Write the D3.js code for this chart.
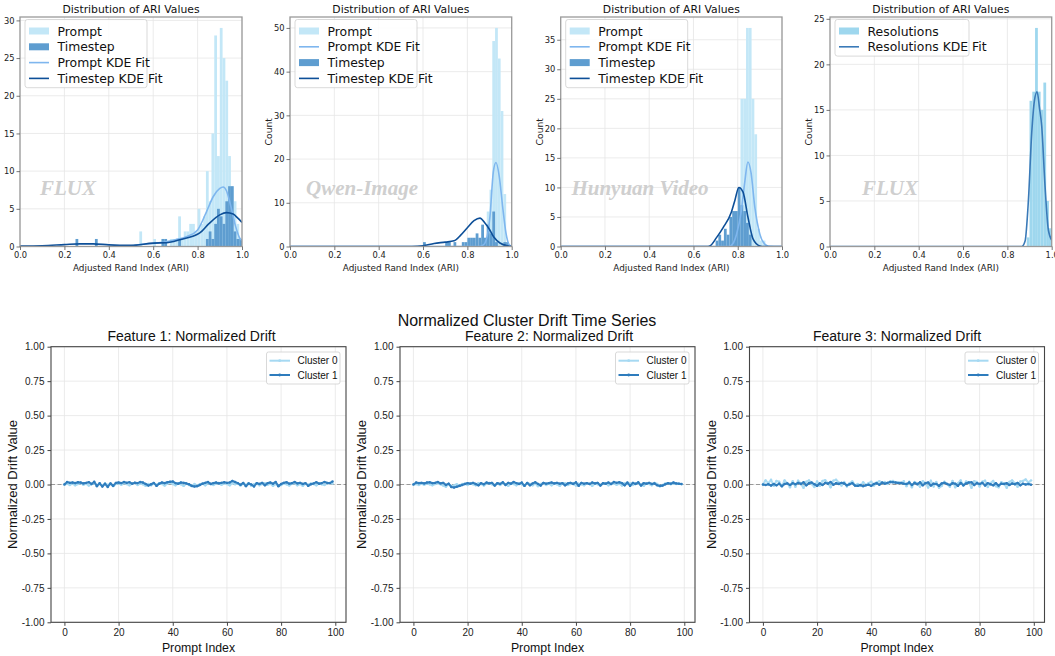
<!DOCTYPE html>
<html><head><meta charset="utf-8">
<script src="https://cdn.jsdelivr.net/npm/d3@7"></script>
<style>body{margin:0;background:#fff}svg{display:block}</style>
</head><body>
<script>
// ---------------- DATA ----------------
const ariTicks = [0, 0.2, 0.4, 0.6, 0.8, 1.0];
const binWidth = 0.0125;

// Panel 1: FLUX (Prompt / Timestep)
const fluxPromptStart = 0.5;
const fluxPromptCounts = [0,0,0,2,0,0,0,0,1,0, 0,1,1,0,1,1,1,4,1,2, 2,3,3,2,5,3,4,10,6,15, 28,12,29,25,22,12,8,6,3,1];
const fluxTimestepStart = 0.25;
const fluxTimestepCounts = [1,0,0,0,0,0,0,1,0,0, 0,0,0,0,0,0,0,0,0,0, 0,0,0,0,0,0,0,0,0,0, 0,1,1,0,0,0,0,1,0,0, 0,0,0,0,0,0,0,1,2,1, 3,5,4,3,6,8,8,2,1,1];
const fluxPromptKde = [[0.45,0],[0.5,0.1],[0.55,0.3],[0.6,0.4],[0.65,0.6],[0.7,0.9],[0.75,1.3],[0.8,2.2],[0.84,4.6],[0.87,6.6],[0.9,7.7],[0.915,7.9],[0.93,7.4],[0.95,5.3],[0.97,2.8],[0.99,1.1],[1.0,0.8]];
const fluxTimestepKde = [[0,0.05],[0.1,0.1],[0.2,0.25],[0.27,0.35],[0.33,0.35],[0.4,0.22],[0.5,0.15],[0.6,0.45],[0.66,0.5],[0.72,0.9],[0.81,1.8],[0.85,3.0],[0.9,4.2],[0.93,4.5],[0.96,4.3],[0.98,3.8],[1.0,3.2]];

// Panel 2: Qwen-Image
const qwenPromptStart = 0.8625;
const qwenPromptCounts = [1,2,8,13,47,50,43,31,12,1,0];
const qwenTimestepStart = 0.6;
const qwenTimestepCounts = [1,0,0,0,0,0,0,0,1,1, 0,1,0,0,1,1,2,2,2,3, 2,5,2,5,3,8,1,0,0,1, 1,0];
const qwenPromptKde = [[0,0],[0.85,0],[0.87,0.3],[0.88,0.85],[0.89,2.5],[0.902,6.9],[0.917,17],[0.929,19.2],[0.944,16],[0.959,9.2],[0.974,3.1],[0.989,0.4],[1.0,0.1]];
const qwenTimestepKde = [[0,0],[0.55,0],[0.6,0.15],[0.65,0.7],[0.7,1.0],[0.74,1.3],[0.77,2.6],[0.8,4.3],[0.83,5.9],[0.857,6.5],[0.88,5.3],[0.9,3.9],[0.92,2.1],[0.947,0.8],[0.98,0.15],[1.0,0.05]];

// Panel 3: Hunyuan Video
const hunyPromptStart = 0.775;
const hunyPromptCounts = [1,3,5,25,25,37,37,25,19,3,1,1];
const hunyTimestepStart = 0.7;
const hunyTimestepCounts = [1,2,1,3,2,5,6,6,10,7,6,4,2];
const hunyPromptKde = [[0,0],[0.76,0],[0.78,0.6],[0.794,2],[0.816,6],[0.832,11],[0.846,14.3],[0.86,12.5],[0.877,6.7],[0.9,2.1],[0.922,0.4],[0.94,0.05],[1.0,0]];
const hunyTimestepKde = [[0,0],[0.66,0],[0.674,0.1],[0.704,1.5],[0.734,3.2],[0.771,5.8],[0.787,7.8],[0.805,10],[0.824,9.2],[0.846,5],[0.869,1.3],[0.9,0.1],[0.92,0],[1.0,0]];

// Panel 4: FLUX (Resolutions)
const resStart = 0.8875;
const resCounts = [1,16,17,24,17,15,18,5,2];
const resKde = [[0,0],[0.865,0],[0.88,0.6],[0.895,5.1],[0.91,12.5],[0.922,16],[0.934,17],[0.945,15.2],[0.955,13.2],[0.97,6.6],[0.985,1.8],[1.0,0.7]];

// Bottom: drift time series (100 prompts each)
const promptIndexTicks = [0, 20, 40, 60, 80, 100];
const driftTicks = [1.00, 0.75, 0.50, 0.25, 0.00, -0.25, -0.50, -0.75, -1.00];
const f1c0 = [0.000,0.006,-0.004,0.008,-0.006,0.004,0.010,-0.002,0.006,-0.008, 0.002,0.010,-0.006,0.004,-0.010,0.008,-0.004,0.006,-0.012,0.004, 0.008,-0.002,0.010,0.004,-0.006,0.006,0.012,-0.004,0.008,0.002, -0.010,0.004,-0.006,0.008,-0.002,0.010,0.004,-0.008,0.006,0.012, 0.004,-0.006,0.008,0.002,-0.010,0.006,-0.004,-0.012,0.004,-0.008, 0.002,0.008,-0.006,0.010,0.004,-0.004,0.006,0.012,-0.002,0.008, 0.004,-0.006,0.010,0.002,0.008,-0.008,0.006,-0.004,0.010,-0.010, 0.002,0.008,-0.006,0.004,0.010,-0.002,0.006,-0.010,0.004,-0.012, -0.004,0.008,0.002,-0.008,0.006,0.010,-0.006,0.004,-0.010,0.006, -0.002,0.008,0.004,-0.006,0.010,0.002,-0.004,0.008,0.012,0.006];
const f1c1 = [0.000,0.018,0.012,0.014,0.010,0.016,0.015,0.008,0.012,0.017, 0.004,0.020,-0.012,0.010,-0.015,0.005,-0.018,0.008,-0.010,0.012, 0.015,0.010,0.018,0.012,0.016,0.006,0.013,0.010,0.018,0.014, 0.004,-0.008,0.002,0.012,-0.010,0.006,0.014,0.010,0.016,0.020, 0.022,0.010,0.006,0.015,0.012,0.008,0.002,-0.010,-0.014,-0.012, -0.004,0.006,0.012,0.018,0.004,0.010,0.014,0.008,0.012,0.016, 0.012,0.014,0.026,0.018,0.010,-0.002,0.012,-0.012,0.008,0.000, -0.014,0.010,0.004,0.012,-0.006,0.010,0.014,0.006,0.018,-0.012, 0.004,0.012,0.016,0.006,0.010,0.018,0.008,0.012,0.004,0.010, -0.010,0.002,0.008,0.016,0.006,0.010,0.018,0.012,0.010,0.022];
const f2c0 = [0.000,0.004,-0.004,0.006,-0.002,0.008,0.002,-0.006,0.004,0.010, 0.002,-0.008,-0.016,0.004,-0.012,-0.006,0.002,-0.010,0.004,0.006, -0.004,0.008,0.002,-0.006,0.010,0.004,-0.008,0.006,0.012,0.002, -0.006,0.008,-0.004,0.010,0.002,-0.010,0.006,0.004,-0.006,0.008, 0.002,-0.008,0.010,0.004,-0.006,0.008,-0.012,0.004,0.010,-0.004, 0.006,-0.006,0.008,0.002,-0.010,0.006,0.010,-0.004,0.004,0.008, -0.008,0.006,0.002,-0.006,0.010,0.004,-0.010,0.008,0.002,-0.004, 0.006,0.010,-0.006,0.004,0.008,-0.002,0.006,-0.008,0.010,0.004, 0.008,-0.004,0.006,0.010,0.002,-0.010,0.008,0.004,-0.006,0.012, 0.004,-0.014,-0.004,0.008,0.010,0.002,0.008,0.004,0.006,0.002];
const f2c1 = [0.000,0.014,0.010,0.012,0.008,0.014,0.016,0.010,0.012,0.018, 0.008,0.012,-0.004,0.006,-0.018,-0.022,-0.016,-0.010,-0.004,0.004, 0.010,0.006,0.012,0.004,-0.006,0.010,0.002,0.014,0.008,0.012, -0.008,0.010,0.004,0.016,-0.004,0.012,0.006,0.018,0.010,0.004, 0.014,-0.010,0.012,-0.006,0.008,0.016,0.004,-0.008,0.012,0.006, 0.010,0.014,0.008,0.012,0.006,0.010,-0.006,0.008,0.012,0.004, 0.016,-0.010,0.012,0.006,0.010,0.004,0.014,0.008,0.012,-0.008, 0.010,0.006,0.014,0.004,0.018,0.012,0.016,0.010,-0.006,0.014, -0.010,0.012,0.004,0.016,-0.008,0.010,0.006,0.012,0.004,0.008, -0.006,-0.010,-0.008,0.002,0.010,0.006,0.014,0.008,0.006,0.004];
const f3c0 = [0.000,0.030,0.010,0.034,-0.010,0.026,0.020,-0.014,0.030,0.010, -0.020,0.024,-0.016,0.028,0.006,-0.024,0.020,0.030,0.004,-0.018, 0.022,-0.010,0.026,0.032,0.008,-0.020,0.028,0.034,0.014,-0.008, 0.018,-0.014,0.010,0.022,-0.006,0.004,-0.010,0.016,-0.004,0.010, 0.020,-0.008,0.014,0.024,0.010,0.018,0.004,0.022,0.026,0.012, 0.016,0.008,0.024,-0.012,0.020,-0.020,0.018,0.006,-0.016,0.024, 0.010,-0.022,0.028,-0.014,0.018,-0.024,-0.010,0.020,0.004,-0.016, 0.026,-0.020,0.010,0.030,-0.008,0.022,0.014,-0.024,0.024,0.018, -0.014,0.020,0.028,-0.018,0.010,0.026,-0.012,-0.020,0.016,0.008, -0.024,0.018,0.030,0.010,-0.016,0.022,0.026,0.036,0.014,0.030];
const f3c1 = [0.000,-0.004,0.002,-0.008,0.004,-0.006,0.006,-0.012,0.004,0.008, -0.004,0.010,0.002,0.012,0.004,0.016,-0.006,0.010,0.014,0.002, -0.010,0.008,-0.004,0.012,0.006,0.018,-0.002,0.010,0.004,0.012, 0.008,-0.006,0.002,0.010,-0.008,-0.010,-0.004,-0.012,-0.006,-0.002, -0.010,0.004,0.010,-0.002,0.014,0.006,0.012,0.018,0.016,0.014, 0.010,0.012,0.006,0.004,0.014,-0.004,0.012,0.002,0.016,-0.006, 0.010,0.014,-0.008,0.006,0.004,-0.010,0.008,0.012,0.004,-0.004, 0.010,0.006,-0.010,0.012,-0.006,0.008,0.014,0.016,-0.004,0.010, 0.004,0.012,-0.008,0.010,0.002,-0.006,0.010,-0.008,0.006,0.004, 0.010,-0.004,0.008,0.002,0.012,-0.006,0.006,0.000,0.004,-0.002];

// ---------------- DRAWING ----------------
const W = 1055, H = 656;
const svg = d3.select("body").append("svg").attr("width", W).attr("height", H)
  .attr("font-family", "DejaVu Sans, sans-serif");

const C = {
  prompt: "#c3e7f7", timestep: "#5e9dd0", promptKde: "#7eb6ee", timestepKde: "#0d4f98",
  res: "#9ed7ee", resKde: "#3a7ab8", grid: "#e6e6e6", spine: "#9a9a9a"
};

function hist(start, counts) {
  return counts.map((c, i) => ({x0: start + i * binWidth, x1: start + (i + 1) * binWidth, c}));
}

const topPanels = [
  {left: 20, right: 242, ylabel: false, mark: "FLUX", markX: 68, ytickStep: 5,
   hists: [{name: "Prompt", bins: hist(fluxPromptStart, fluxPromptCounts), color: C.prompt},
           {name: "Timestep", bins: hist(fluxTimestepStart, fluxTimestepCounts), color: C.timestep}],
   kdes: [{name: "Prompt KDE Fit", pts: fluxPromptKde, color: C.promptKde},
          {name: "Timestep KDE Fit", pts: fluxTimestepKde, color: C.timestepKde}],
   legend: ["Prompt", "Timestep", "Prompt KDE Fit", "Timestep KDE Fit"]},
  {left: 290, right: 511.7, ylabel: true, mark: "Qwen-Image", markX: 362, ytickStep: 10,
   hists: [{name: "Prompt", bins: hist(qwenPromptStart, qwenPromptCounts), color: C.prompt},
           {name: "Timestep", bins: hist(qwenTimestepStart, qwenTimestepCounts), color: C.timestep}],
   kdes: [{name: "Prompt KDE Fit", pts: qwenPromptKde, color: C.promptKde},
          {name: "Timestep KDE Fit", pts: qwenTimestepKde, color: C.timestepKde}],
   legend: ["Prompt", "Prompt KDE Fit", "Timestep", "Timestep KDE Fit"]},
  {left: 560.7, right: 782, ylabel: true, mark: "Hunyuan Video", markX: 640, ytickStep: 5,
   hists: [{name: "Prompt", bins: hist(hunyPromptStart, hunyPromptCounts), color: C.prompt},
           {name: "Timestep", bins: hist(hunyTimestepStart, hunyTimestepCounts), color: C.timestep}],
   kdes: [{name: "Prompt KDE Fit", pts: hunyPromptKde, color: C.promptKde},
          {name: "Timestep KDE Fit", pts: hunyTimestepKde, color: C.timestepKde}],
   legend: ["Prompt", "Prompt KDE Fit", "Timestep", "Timestep KDE Fit"]},
  {left: 830, right: 1051.7, ylabel: true, mark: "FLUX", markX: 890, ytickStep: 5,
   hists: [{name: "Resolutions", bins: hist(resStart, resCounts), color: C.res}],
   kdes: [{name: "Resolutions KDE Fit", pts: resKde, color: C.resKde}],
   legend: ["Resolutions", "Resolutions KDE Fit"]}
];

const TOP = 17, BOT = 246.5;

topPanels.forEach((p, pi) => {
  const g = svg.append("g");
  const maxC = d3.max(p.hists.flatMap(h => h.bins.map(b => b.c)));
  const x = d3.scaleLinear().domain([0, 1]).range([p.left, p.right]);
  const y = d3.scaleLinear().domain([0, maxC * 1.05]).range([BOT, TOP]);
  const yt = d3.range(0, maxC * 1.05 + 0.001, p.ytickStep);
  const clipId = "clipT" + pi;
  g.append("clipPath").attr("id", clipId).append("rect")
    .attr("x", p.left).attr("y", TOP).attr("width", p.right - p.left).attr("height", BOT - TOP);

  // grid
  g.append("g").selectAll("line").data(ariTicks).join("line")
    .attr("x1", d => x(d)).attr("x2", d => x(d)).attr("y1", TOP).attr("y2", BOT)
    .attr("stroke", C.grid).attr("stroke-width", 0.8);
  g.append("g").selectAll("line").data(yt).join("line")
    .attr("x1", p.left).attr("x2", p.right).attr("y1", d => y(d)).attr("y2", d => y(d))
    .attr("stroke", C.grid).attr("stroke-width", 0.8);

  // watermark
  g.append("text").attr("x", p.markX).attr("y", 190).attr("text-anchor", "middle")
    .attr("dominant-baseline", "middle")
    .attr("font-family", "Liberation Serif, serif").attr("font-style", "italic").attr("font-weight", "bold")
    .attr("font-size", 21).attr("fill", "#cfcfcf").text(p.mark);

  const plot = g.append("g").attr("clip-path", `url(#${clipId})`);
  p.hists.forEach(h => {
    plot.append("g").selectAll("rect").data(h.bins.filter(b => b.c > 0)).join("rect")
      .attr("x", b => x(b.x0)).attr("width", b => x(b.x1) - x(b.x0))
      .attr("y", b => y(b.c)).attr("height", b => y(0) - y(b.c))
      .attr("fill", h.color);
  });
  const line = d3.line().x(d => x(d[0])).y(d => y(d[1])).curve(d3.curveMonotoneX);
  p.kdes.forEach(k => {
    plot.append("path").datum(k.pts).attr("d", line).attr("fill", "none")
      .attr("stroke", k.color).attr("stroke-width", 1.6);
  });

  // spines
  g.append("rect").attr("x", p.left).attr("y", TOP).attr("width", p.right - p.left).attr("height", BOT - TOP)
    .attr("fill", "none").attr("stroke", C.spine).attr("stroke-width", 1.3);

  // axes
  const xa = g.append("g").attr("transform", `translate(0,${BOT})`)
    .call(d3.axisBottom(x).tickValues(ariTicks).tickFormat(d3.format(".1f")).tickSize(3.5).tickPadding(2));
  const ya = g.append("g").attr("transform", `translate(${p.left},0)`)
    .call(d3.axisLeft(y).tickValues(yt).tickFormat(d3.format("d")).tickSize(3.5).tickPadding(2));
  [xa, ya].forEach(a => {
    a.select(".domain").remove();
    a.selectAll(".tick line").attr("stroke", "#555").attr("stroke-width", 0.8);
    a.selectAll("text").attr("font-size", 8.3).attr("fill", "#222").attr("font-family", "DejaVu Sans, sans-serif");
  });

  g.append("text").attr("x", (p.left + p.right) / 2).attr("y", 270.5).attr("text-anchor", "middle")
    .attr("font-size", 8.9).attr("fill", "#222").text("Adjusted Rand Index (ARI)");
  if (p.ylabel) {
    g.append("text").attr("transform", `translate(${p.left - 18},${(TOP + BOT) / 2}) rotate(-90)`)
      .attr("text-anchor", "middle").attr("font-size", 9.2).attr("fill", "#222").text("Count");
  }
  g.append("text").attr("x", (p.left + p.right) / 2).attr("y", 13).attr("text-anchor", "middle")
    .attr("font-size", 10.8).attr("fill", "#111").text("Distribution of ARI Values");

  // legend
  const items = p.legend.map(n => {
    const h = p.hists.find(q => q.name === n);
    if (h) return {n, type: "patch", color: h.color};
    const k = p.kdes.find(q => q.name === n);
    return {n, type: "line", color: k.color};
  });
  const lx = p.left + 5, ly = 19.5;
  const rowH = 15.8;
  const lw = pi === 3 ? 134 : 122;
  const lg = g.append("g");
  lg.append("rect").attr("x", lx).attr("y", ly).attr("width", lw).attr("height", items.length * rowH + 5)
    .attr("rx", 2.5).attr("fill", "#fff").attr("fill-opacity", 0.85).attr("stroke", "#cfcfcf").attr("stroke-width", 0.8);
  items.forEach((it, i) => {
    const cy = ly + 11.5 + i * rowH;
    if (it.type === "patch") {
      lg.append("rect").attr("x", lx + 4).attr("y", cy - 3.5).attr("width", 20).attr("height", 7).attr("fill", it.color);
    } else {
      lg.append("line").attr("x1", lx + 4).attr("x2", lx + 24).attr("y1", cy).attr("y2", cy)
        .attr("stroke", it.color).attr("stroke-width", 1.6);
    }
    lg.append("text").attr("x", lx + 32.5).attr("y", cy).attr("dominant-baseline", "central")
      .attr("font-size", 12.4).attr("fill", "#111").text(it.n);
  });
});

// ---------- Bottom row ----------
svg.append("text").attr("x", 527).attr("y", 326).attr("text-anchor", "middle")
  .attr("font-family", "Liberation Sans, Arial, sans-serif").attr("font-size", 16).attr("fill", "#111")
  .text("Normalized Cluster Drift Time Series");

const bottomPanels = [
  {left: 51, titleX: 191.5, title: "Feature 1: Normalized Drift", c0: f1c0, c1: f1c1},
  {left: 400, titleX: 549, title: "Feature 2: Normalized Drift", c0: f2c0, c1: f2c1},
  {left: 749.5, titleX: 897, title: "Feature 3: Normalized Drift", c0: f3c0, c1: f3c1}
];
const BW = 295, BTOP = 346.7, BBOT = 622.3;
const FONT2 = "Liberation Sans, Arial, sans-serif";
const clusterColors = ["#a6d9f2", "#2e7cbd"];

bottomPanels.forEach((p, pi) => {
  const g = svg.append("g").attr("font-family", FONT2);
  const n = p.c1.length;
  const x = d3.scaleLinear().domain([-(n - 1) * 0.05, (n - 1) * 1.05]).range([p.left, p.left + BW]);
  const y = d3.scaleLinear().domain([-1, 1]).range([BBOT, BTOP]);
  const clipId = "clipB" + pi;
  g.append("clipPath").attr("id", clipId).append("rect")
    .attr("x", p.left).attr("y", BTOP).attr("width", BW).attr("height", BBOT - BTOP);

  g.append("g").selectAll("line").data(promptIndexTicks).join("line")
    .attr("x1", d => x(d)).attr("x2", d => x(d)).attr("y1", BTOP).attr("y2", BBOT)
    .attr("stroke", C.grid).attr("stroke-width", 0.8);
  g.append("g").selectAll("line").data(driftTicks).join("line")
    .attr("x1", p.left).attr("x2", p.left + BW).attr("y1", d => y(d)).attr("y2", d => y(d))
    .attr("stroke", C.grid).attr("stroke-width", 0.8);

  g.append("line").attr("x1", p.left).attr("x2", p.left + BW).attr("y1", y(0)).attr("y2", y(0))
    .attr("stroke", "#999").attr("stroke-width", 1).attr("stroke-dasharray", "4,2.5");

  const plot = g.append("g").attr("clip-path", `url(#${clipId})`);
  const line = d3.line().x((d, i) => x(i)).y(d => y(d));
  [p.c0, p.c1].forEach((s, si) => {
    plot.append("path").datum(s).attr("d", line).attr("fill", "none")
      .attr("stroke", clusterColors[si]).attr("stroke-width", 2.1).attr("stroke-opacity", si ? 0.95 : 0.9)
      .attr("stroke-linejoin", "round");
    plot.append("g").selectAll("circle").data(s).join("circle")
      .attr("cx", (d, i) => x(i)).attr("cy", d => y(d)).attr("r", 1.2).attr("fill", clusterColors[si]);
  });

  g.append("rect").attr("x", p.left).attr("y", BTOP).attr("width", BW).attr("height", BBOT - BTOP)
    .attr("fill", "none").attr("stroke", "#444").attr("stroke-width", 1.1);

  const xa = g.append("g").attr("transform", `translate(0,${BBOT})`)
    .call(d3.axisBottom(x).tickValues(promptIndexTicks).tickFormat(d3.format("d")).tickSize(3.5).tickPadding(3));
  const ya = g.append("g").attr("transform", `translate(${p.left},0)`)
    .call(d3.axisLeft(y).tickValues(driftTicks).tickFormat(d3.format(".2f")).tickSize(3.5).tickPadding(3));
  [xa, ya].forEach(a => {
    a.select(".domain").remove();
    a.selectAll(".tick line").attr("stroke", "#444");
    a.selectAll("text").attr("font-size", 10).attr("fill", "#222").attr("font-family", FONT2);
  });
  ya.selectAll("text").text(d => d.toFixed(2).replace("−", "-"));

  g.append("text").attr("x", p.titleX).attr("y", 341).attr("text-anchor", "middle")
    .attr("font-size", 14).attr("fill", "#111").text(p.title);
  g.append("text").attr("x", p.left + BW / 2).attr("y", 652).attr("text-anchor", "middle")
    .attr("font-size", 12.3).attr("fill", "#111").text("Prompt Index");
  g.append("text").attr("transform", `translate(${p.left - 34},${(BTOP + BBOT) / 2}) rotate(-90)`)
    .attr("text-anchor", "middle").attr("font-size", 13).attr("fill", "#111").text("Normalized Drift Value");

  // legend
  const lx = p.left + BW - 79.5, ly = 352;
  const lg = g.append("g");
  lg.append("rect").attr("x", lx).attr("y", ly).attr("width", 73.5).attr("height", 32)
    .attr("rx", 2).attr("fill", "#fff").attr("fill-opacity", 0.85).attr("stroke", "#cfcfcf").attr("stroke-width", 0.8);
  ["Cluster 0", "Cluster 1"].forEach((name, i) => {
    const cy = ly + 8.7 + i * 14.3;
    lg.append("line").attr("x1", lx + 3).attr("x2", lx + 23.5).attr("y1", cy).attr("y2", cy)
      .attr("stroke", clusterColors[i]).attr("stroke-width", 2);
    lg.append("circle").attr("cx", lx + 13.2).attr("cy", cy).attr("r", 1.4).attr("fill", clusterColors[i]);
    lg.append("text").attr("x", lx + 31).attr("y", cy).attr("dominant-baseline", "central")
      .attr("font-size", 10).attr("fill", "#111").text(name);
  });
});
</script>
</body></html>
